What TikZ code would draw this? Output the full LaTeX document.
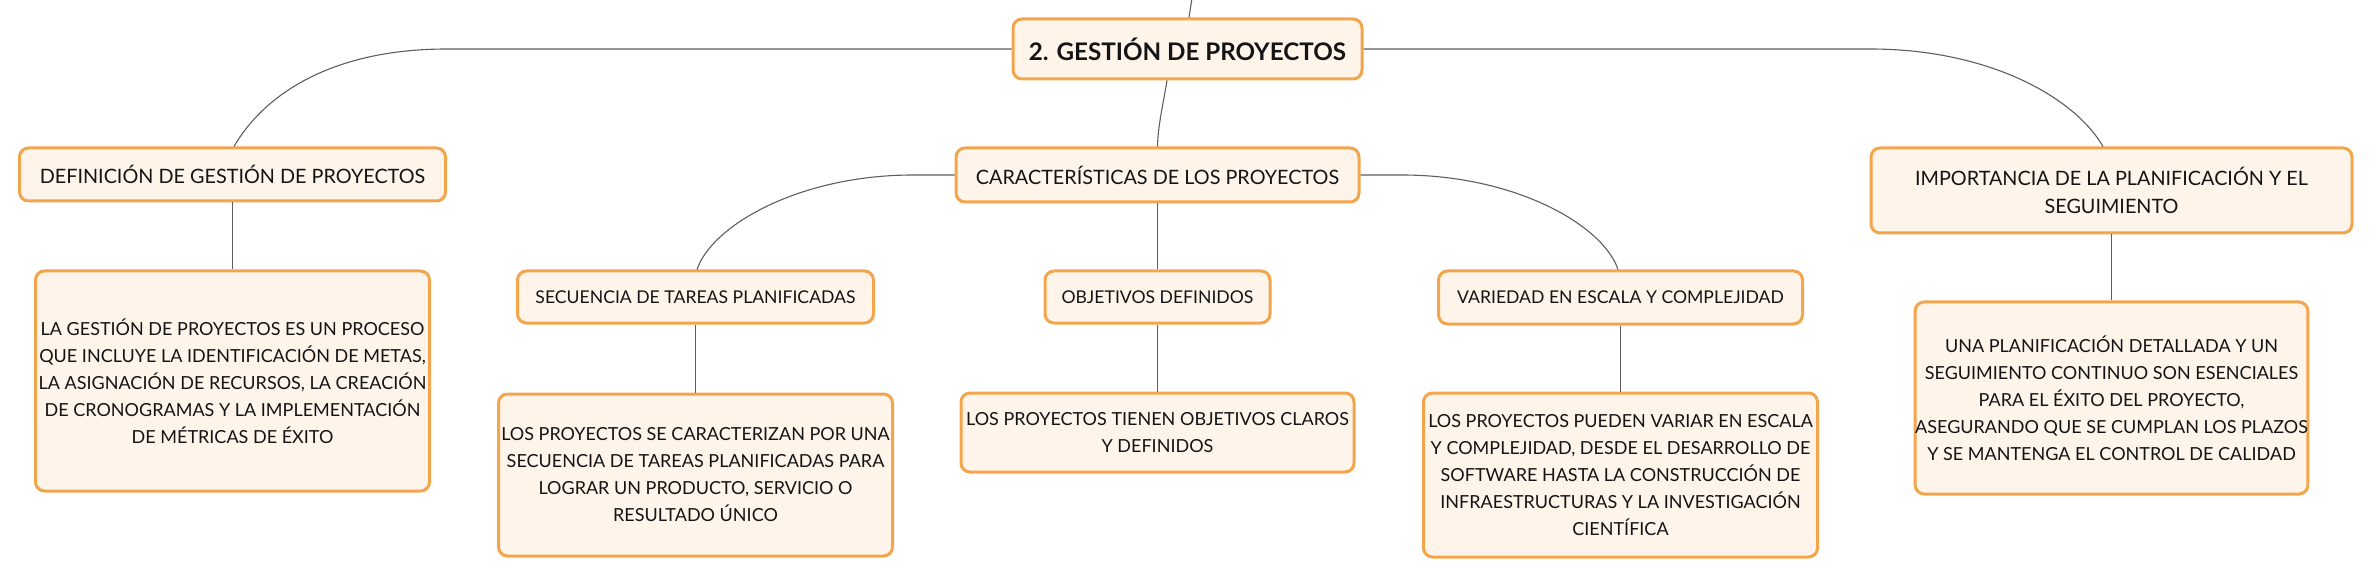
\documentclass[tikz,border=0pt]{standalone}
\usepackage{fontspec}
\setmainfont{Lato}
\definecolor{boxfill}{HTML}{FEF4EA}
\definecolor{boxdraw}{HTML}{F2A54C}
\definecolor{linkc}{HTML}{5E5E5E}
\begin{document}
\begin{tikzpicture}[x=1pt,y=-1pt,
  box/.style={draw=boxdraw,fill=boxfill,line width=3pt,rounded corners=9pt,
    align=center,inner sep=0pt,text=black!92},
  head/.style={box,font=\fontsize{19.8}{28}\selectfont},
  sub/.style={box,font=\fontsize{17.6}{27}\selectfont},
  body/.style={box,font=\fontsize{18}{27}\selectfont},
  rootst/.style={box,font=\fontsize{24.2}{28}\selectfont\bfseries},
  link/.style={draw=linkc,line width=1.1pt}]
\useasboundingbox (0,0) rectangle (2377,577);
% nodes
\node[rootst,minimum width=349pt,minimum height=60pt] (root) at (1187.5,49) {2. GESTIÓN DE PROYECTOS};
\node[head,minimum width=426pt,minimum height=53pt] (def) at (232.5,174.5) {DEFINICIÓN DE GESTIÓN DE PROYECTOS};
\node[head,minimum width=403pt,minimum height=54pt] (car) at (1157.5,175) {CARACTERÍSTICAS DE LOS PROYECTOS};
\node[head,minimum width=481pt,minimum height=85pt] (imp) at (2111.5,190.5) {IMPORTANCIA DE LA PLANIFICACIÓN Y EL\\SEGUIMIENTO};
\node[sub,minimum width=356pt,minimum height=52pt] (sec) at (695.5,297) {SECUENCIA DE TAREAS PLANIFICADAS};
\node[sub,minimum width=225pt,minimum height=52pt] (obj) at (1157.5,297) {OBJETIVOS DEFINIDOS};
\node[sub,minimum width=364pt,minimum height=53pt] (var) at (1620.5,297.5) {VARIEDAD EN ESCALA Y COMPLEJIDAD};
\node[body,minimum width=394pt,minimum height=220pt] (defc) at (232.5,381) {LA GESTIÓN DE PROYECTOS ES UN PROCESO\\QUE INCLUYE LA IDENTIFICACIÓN DE METAS,\\LA ASIGNACIÓN DE RECURSOS, LA CREACIÓN\\DE CRONOGRAMAS Y LA IMPLEMENTACIÓN\\DE MÉTRICAS DE ÉXITO};
\node[body,minimum width=394pt,minimum height=162pt] (secc) at (695.5,475) {LOS PROYECTOS SE CARACTERIZAN POR UNA\\SECUENCIA DE TAREAS PLANIFICADAS PARA\\LOGRAR UN PRODUCTO, SERVICIO O\\RESULTADO ÚNICO};
\node[body,minimum width=393pt,minimum height=79pt] (objc) at (1157.5,432.5) {LOS PROYECTOS TIENEN OBJETIVOS CLAROS\\Y DEFINIDOS};
\node[body,minimum width=394pt,minimum height=164pt] (varc) at (1620.5,475) {LOS PROYECTOS PUEDEN VARIAR EN ESCALA\\Y COMPLEJIDAD, DESDE EL DESARROLLO DE\\SOFTWARE HASTA LA CONSTRUCCIÓN DE\\INFRAESTRUCTURAS Y LA INVESTIGACIÓN\\CIENTÍFICA};
\node[body,minimum width=391pt,minimum height=192pt] (impc) at (2111.5,398) {UNA PLANIFICACIÓN DETALLADA Y UN\\SEGUIMIENTO CONTINUO SON ESENCIALES\\PARA EL ÉXITO DEL PROYECTO,\\ASEGURANDO QUE SE CUMPLAN LOS PLAZOS\\Y SE MANTENGA EL CONTROL DE CALIDAD};
\coordinate (top) at (1192,-2);
% connectors
\draw[link] (top) -- (root.north -| 1189,0);
\draw[link] (root.west) -- (447,49) .. controls (327,49) and (262,98) .. (def.north -| 234,0);
\draw[link] (root.east) -- (1870,49) .. controls (1990,49) and (2075,98) .. (imp.north -| 2103,0);
\draw[link] (root.south -| 1167,0) .. controls (1163,105) and (1158,125) .. (car.north);
\draw[link] (car.west) -- (913,175) .. controls (800,175) and (712,225) .. (sec.north -| 697,0);
\draw[link] (car.east) -- (1402,175) .. controls (1515,175) and (1603,225) .. (var.north -| 1618,0);
\draw[link] (car.south) -- (obj.north);
\draw[link] (obj.south) -- (objc.north);
\draw[link] (def.south) -- (defc.north);
\draw[link] (sec.south) -- (secc.north);
\draw[link] (var.south) -- (varc.north);
\draw[link] (imp.south) -- (impc.north);
\end{tikzpicture}
\end{document}
